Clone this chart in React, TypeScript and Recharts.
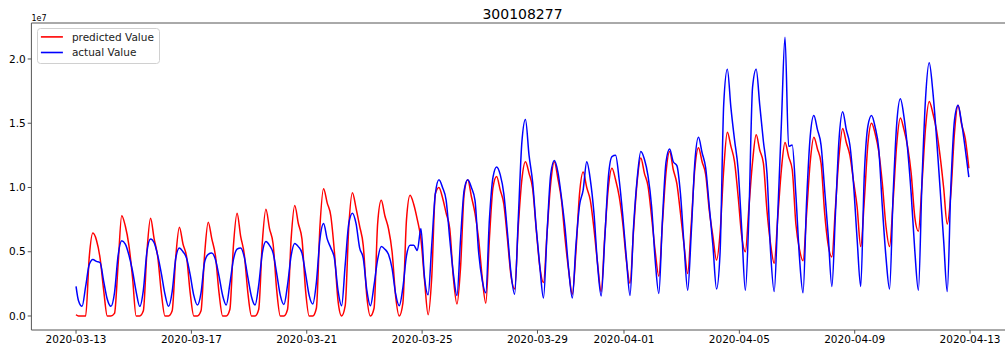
import React from 'react';
import { LineChart, Line, XAxis, YAxis, Legend, ReferenceLine } from 'recharts';

// ---- data (values in units of 1e7) ----
const chartTitle = '300108277';
const startDateUtc = Date.UTC(2020, 2, 13);
const HOUR_MS = 3600000;

// first sample at 2020-03-13 00:00
const actualStart = 0.23;
const predictedStart = 0.01;

// every day is sampled at these hours
const sampleHoursOfDay = [2, 5, 8, 11, 14, 17, 20, 23];

// one row per day, 2020-03-13 ... 2020-04-12
const actualByDay: number[][] = [
  [0.12, 0.075, 0.23, 0.40, 0.44, 0.425, 0.415, 0.27],
  [0.13, 0.075, 0.18, 0.47, 0.585, 0.56, 0.475, 0.35],
  [0.19, 0.075, 0.20, 0.50, 0.60, 0.57, 0.47, 0.33],
  [0.17, 0.075, 0.19, 0.45, 0.53, 0.50, 0.45, 0.32],
  [0.16, 0.085, 0.18, 0.42, 0.48, 0.49, 0.44, 0.31],
  [0.16, 0.085, 0.25, 0.44, 0.52, 0.53, 0.46, 0.30],
  [0.15, 0.085, 0.24, 0.49, 0.58, 0.55, 0.49, 0.33],
  [0.16, 0.09, 0.24, 0.47, 0.565, 0.54, 0.49, 0.33],
  [0.16, 0.093, 0.26, 0.60, 0.72, 0.60, 0.53, 0.45],
  [0.20, 0.08, 0.40, 0.72, 0.80, 0.72, 0.53, 0.45],
  [0.20, 0.08, 0.24, 0.44, 0.54, 0.52, 0.48, 0.37],
  [0.17, 0.08, 0.22, 0.47, 0.55, 0.55, 0.51, 0.68],
  [0.30, 0.165, 0.55, 0.95, 1.06, 1.00, 0.90, 0.60],
  [0.33, 0.16, 0.60, 0.98, 1.06, 1.00, 0.90, 0.50],
  [0.28, 0.18, 0.75, 1.08, 1.16, 1.10, 0.95, 0.65],
  [0.33, 0.17, 0.75, 1.35, 1.53, 1.25, 1.04, 0.68],
  [0.38, 0.14, 0.65, 1.10, 1.21, 1.12, 0.92, 0.68],
  [0.36, 0.14, 0.55, 0.86, 0.98, 1.20, 1.06, 0.80],
  [0.40, 0.155, 0.60, 1.08, 1.24, 1.25, 1.06, 0.78],
  [0.45, 0.16, 0.70, 1.07, 1.28, 1.22, 1.09, 0.85],
  [0.43, 0.175, 0.75, 1.20, 1.30, 1.20, 1.17, 0.95],
  [0.55, 0.20, 0.65, 1.20, 1.39, 1.27, 1.15, 0.85],
  [0.55, 0.21, 0.50, 1.65, 1.92, 1.62, 1.37, 1.14],
  [0.67, 0.20, 0.80, 1.78, 1.92, 1.64, 1.36, 1.11],
  [0.50, 0.19, 0.80, 1.50, 2.17, 1.32, 1.33, 0.95],
  [0.46, 0.18, 0.90, 1.40, 1.56, 1.45, 1.33, 0.98],
  [0.62, 0.23, 0.80, 1.38, 1.59, 1.45, 1.33, 1.03],
  [0.60, 0.23, 1.10, 1.48, 1.56, 1.47, 1.30, 0.85],
  [0.46, 0.21, 0.95, 1.50, 1.69, 1.55, 1.30, 0.95],
  [0.51, 0.20, 1.05, 1.70, 1.97, 1.75, 1.40, 1.00],
  [0.59, 0.19, 1.00, 1.52, 1.64, 1.50, 1.30, 1.08],
];

const predictedByDay: number[][] = [
  [0, 0, 0, 0.46, 0.645, 0.59, 0.45, 0.20],
  [0, 0, 0.02, 0.40, 0.78, 0.70, 0.55, 0.30],
  [0, 0, 0.04, 0.50, 0.76, 0.60, 0.46, 0.18],
  [0, 0, 0.04, 0.46, 0.69, 0.56, 0.46, 0.18],
  [0, 0, 0.04, 0.48, 0.73, 0.60, 0.47, 0.18],
  [0, 0, 0.05, 0.55, 0.80, 0.62, 0.48, 0.18],
  [0, 0, 0.05, 0.57, 0.83, 0.68, 0.56, 0.20],
  [0, 0, 0.05, 0.60, 0.86, 0.72, 0.60, 0.20],
  [0, 0, 0.06, 0.70, 0.99, 0.88, 0.78, 0.50],
  [0.12, 0, 0.08, 0.70, 0.96, 0.84, 0.70, 0.55],
  [0.15, 0, 0.06, 0.72, 0.90, 0.78, 0.68, 0.50],
  [0.15, 0, 0.10, 0.75, 0.94, 0.87, 0.75, 0.60],
  [0.28, 0.01, 0.30, 0.95, 1.00, 0.92, 0.80, 0.68],
  [0.30, 0.093, 0.38, 0.95, 1.06, 0.93, 0.80, 0.60],
  [0.30, 0.10, 0.60, 1.00, 1.085, 0.98, 0.87, 0.60],
  [0.31, 0.21, 0.69, 1.06, 1.20, 1.11, 0.99, 0.67],
  [0.38, 0.26, 0.65, 1.03, 1.20, 1.07, 0.90, 0.60],
  [0.35, 0.17, 0.50, 0.95, 1.12, 1.00, 0.90, 0.68],
  [0.41, 0.19, 0.62, 1.00, 1.15, 1.06, 0.93, 0.72],
  [0.43, 0.255, 0.67, 1.05, 1.23, 1.11, 1.01, 0.77],
  [0.50, 0.31, 0.72, 1.12, 1.28, 1.14, 1.03, 0.80],
  [0.55, 0.33, 0.72, 1.15, 1.31, 1.20, 1.10, 0.82],
  [0.62, 0.435, 0.65, 1.14, 1.43, 1.32, 1.20, 0.93],
  [0.62, 0.50, 0.85, 1.20, 1.41, 1.29, 1.19, 0.82],
  [0.56, 0.41, 0.77, 1.14, 1.35, 1.24, 1.14, 0.72],
  [0.52, 0.43, 0.80, 1.20, 1.39, 1.30, 1.19, 0.80],
  [0.55, 0.46, 0.85, 1.25, 1.46, 1.35, 1.25, 1.05],
  [0.85, 0.54, 0.90, 1.34, 1.50, 1.42, 1.28, 1.03],
  [0.70, 0.54, 0.90, 1.34, 1.54, 1.45, 1.32, 1.11],
  [0.77, 0.66, 1.03, 1.47, 1.67, 1.58, 1.45, 1.25],
  [1.00, 0.715, 0.95, 1.42, 1.64, 1.49, 1.38, 1.15],
];

const seriesNames = ['predicted Value', 'actual Value'];
const xTickLabels = [
  '2020-03-13', '2020-03-17', '2020-03-21', '2020-03-25', '2020-03-29',
  '2020-04-01', '2020-04-05', '2020-04-09', '2020-04-13',
];
const yTickValues = [0, 0.5, 1.0, 1.5, 2.0];
const SCALE = 1e7;

// ---- build table for recharts ----
type Row = { t: number; predicted: number; actual: number };
const data: Row[] = [{ t: 0, predicted: predictedStart * SCALE, actual: actualStart * SCALE }];
actualByDay.forEach((row, d) => {
  row.forEach((v, i) => {
    data.push({
      t: d * 24 + sampleHoursOfDay[i],
      actual: v * SCALE,
      predicted: predictedByDay[d][i] * SCALE,
    });
  });
});

const tickHours = xTickLabels.map((s) => (Date.parse(s + 'T00:00:00Z') - startDateUtc) / HOUR_MS);
const labelByHour: Record<number, string> = {};
tickHours.forEach((h, i) => { labelByHour[h] = xTickLabels[i]; });

const FONT = '"DejaVu Sans", Verdana, sans-serif';
const SPINE = '#555';

const LegendBox = (props: any) => {
  const payload = ((props.payload || []) as any[])
    .slice()
    .sort((a, b) => seriesNames.indexOf(a.value) - seriesNames.indexOf(b.value));
  return (
    <svg width={123} height={36} style={{ display: 'block' }}>
      <rect x={0.5} y={0.5} width={122} height={35} rx={3} ry={3}
        fill="rgba(255,255,255,0.8)" stroke="#d0d0d0" strokeWidth={1} />
      {payload.map((p, i) => {
        const cy = 8.9 + i * 15.6;
        return (
          <g key={i}>
            <line x1={3.9} x2={25.9} y1={cy} y2={cy} stroke={p.color} strokeWidth={1.6} />
            <text x={34.9} y={cy + 3.9} fontFamily={FONT} fontSize={10.5} fill="#222">{p.value}</text>
          </g>
        );
      })}
    </svg>
  );
};

export default function App() {
  return (
    <div style={{ position: 'absolute', left: 0, top: 0, width: 1005, height: 352, overflow: 'hidden', background: '#fff' }}>
      <LineChart
        width={1020}
        height={352}
        data={data}
        margin={{ top: 23, right: 6.5, bottom: 0, left: 0.4 }}
      >
        <XAxis
          dataKey="t"
          type="number"
          scale="linear"
          domain={[-37.15, 780.15]}
          allowDataOverflow
          ticks={tickHours}
          tickFormatter={(v: number) => labelByHour[v] ?? ''}
          height={22}
          tickSize={3.7}
          tickMargin={1.5}
          stroke={SPINE}
          tick={{ fontFamily: FONT, fontSize: 10.5, fill: '#000' }}
          tickLine={{ stroke: SPINE }}
          axisLine={{ stroke: SPINE }}
          interval={0}
        />
        <YAxis
          type="number"
          domain={[-0.109 * SCALE, 2.28 * SCALE]}
          allowDataOverflow
          ticks={yTickValues.map((v) => v * SCALE)}
          tickFormatter={(v: number) => (v / SCALE).toFixed(1)}
          width={31}
          tickSize={3.7}
          tickMargin={2}
          stroke={SPINE}
          tick={{ fontFamily: FONT, fontSize: 10.5, fill: '#000' }}
          tickLine={{ stroke: SPINE }}
          axisLine={{ stroke: SPINE }}
          interval={0}
        />
        <ReferenceLine y={2.28 * SCALE} stroke={SPINE} strokeWidth={1} ifOverflow="visible" />
        <Line
          type="monotone"
          dataKey="predicted"
          name={seriesNames[0]}
          stroke="#ff0000"
          strokeWidth={1.5}
          dot={false}
          activeDot={false}
          isAnimationActive={false}
        />
        <Line
          type="monotone"
          dataKey="actual"
          name={seriesNames[1]}
          stroke="#0000ff"
          strokeWidth={1.5}
          dot={false}
          activeDot={false}
          isAnimationActive={false}
        />
        <Legend
          layout="vertical"
          align="center"
          verticalAlign="middle"
          content={<LegendBox />}
          wrapperStyle={{ position: 'absolute', left: 36.8, top: 27.8, width: 123, height: 36 }}
        />
      </LineChart>
      <svg width={1005} height={352} style={{ position: 'absolute', left: 0, top: 0, pointerEvents: 'none' }}>
        <text x={522.5} y={18.5} textAnchor="middle" fontFamily={FONT} fontSize={14} fill="#000">{chartTitle}</text>
        <text x={31.5} y={20.5} fontFamily={FONT} fontSize={8} fill="#000">1e7</text>
      </svg>
    </div>
  );
}
